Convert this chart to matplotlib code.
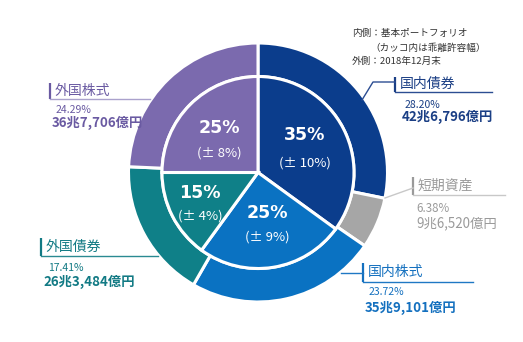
import matplotlib
matplotlib.use("Agg")
import matplotlib.pyplot as plt

plt.rcParams['font.family'] = ['Noto Sans CJK JP', 'DejaVu Sans']

# outer ring: actual allocation at end of Dec 2018 (clockwise from top)
categories = ['国内債券', '短期資産', '国内株式', '外国債券', '外国株式']
actual_pct = [28.20, 6.38, 23.72, 17.41, 24.29]
amounts = ['42兆6,796億円', '9兆6,520億円', '35兆9,101億円', '26兆3,484億円', '36兆7,706億円']

# inner pie: policy portfolio and allowed deviation
policy_cats = ['国内債券', '国内株式', '外国債券', '外国株式']
policy_pct = [35, 25, 15, 25]
policy_band = [10, 9, 4, 8]

fill = {'国内債券': '#0b3d8c', '短期資産': '#a6a6a6', '国内株式': '#0a72c2',
        '外国債券': '#0f8088', '外国株式': '#7b6aae'}
text_col = {'国内債券': '#1b3f85', '短期資産': '#9a9a9a', '国内株式': '#1470bf',
            '外国債券': '#127a84', '外国株式': '#6a5aa2'}
line_col = {'国内債券': '#2c4d92', '短期資産': '#c8c8c8', '国内株式': '#1f78c4',
            '外国債券': '#2a8a92', '外国株式': '#aaa2cc'}

W, H = 523, 342
fig = plt.figure(figsize=(W / 100, H / 100), dpi=100)
ax = fig.add_axes([0, 0, 1, 1])

cx, cy = 258, H - 172.5
R_out, R_in = 129.5, 96

ax.pie(actual_pct, radius=R_out, center=(cx, cy), startangle=90, counterclock=False,
       colors=[fill[c] for c in categories], frame=True,
       wedgeprops=dict(width=R_out - R_in, edgecolor='white', linewidth=2.2))
ax.pie(policy_pct, radius=R_in, center=(cx, cy), startangle=90, counterclock=False,
       colors=[fill[c] for c in policy_cats], frame=True,
       wedgeprops=dict(edgecolor='white', linewidth=2.2))

ax.set_xlim(0, W)
ax.set_ylim(0, H)
ax.axis('off')

# inner labels (pixel positions measured from top-left)
inner_pos = [(305, 135, 163), (267, 213, 237), (200, 193, 216), (219, 128, 153)]
for (x, y1, y2), p, b in zip(inner_pos, policy_pct, policy_band):
    ax.text(x, H - y1, f'{p}%', color='white', fontsize=12.5, fontweight='bold',
            ha='center', va='center', family='DejaVu Sans')
    ax.text(x, H - y2, f'(± {b}%)', color='white', fontsize=9.5,
            ha='center', va='center')

# outer labels: bar x, bar top, bar bottom, underline end, leader points
label_pos = {
    '国内債券': dict(x=395, top=77, bot=92, end=492, leader=[(362, 100), (373, 82), (395, 82)],
                  pct=(405, 105), amt=(402, 117)),
    '短期資産': dict(x=413, top=177, bot=195, end=505, leader=[(385, 198), (413, 188)],
                  pct=(416, 208), amt=(416, 223)),
    '国内株式': dict(x=363, top=263, bot=282, end=473, leader=[(341, 273), (363, 273)],
                  pct=(369, 292), amt=(365, 308)),
    '外国債券': dict(x=41, top=238, bot=256, end=158, leader=None,
                  pct=(48, 268), amt=(43, 282)),
    '外国株式': dict(x=50, top=83, bot=99, end=150, leader=None,
                  pct=(56, 110), amt=(52, 123)),
}

for c, pct, amt in zip(categories, actual_pct, amounts):
    p = label_pos[c]
    tc, lc = text_col[c], line_col[c]
    ax.plot([p['x'], p['x']], [H - p['top'], H - p['bot']], color=tc, lw=1.6,
            solid_capstyle='butt')
    ax.plot([p['x'], p['end']], [H - p['bot'], H - p['bot']], color=lc, lw=1.0)
    if p['leader']:
        xs = [q[0] for q in p['leader']]
        ys = [H - q[1] for q in p['leader']]
        ax.plot(xs, ys, color=lc, lw=1.0)
    ax.text(p['x'] + 5, H - (p['top'] + p['bot']) / 2 + 0.5, c, color=tc, fontsize=10,
            ha='left', va='center')
    weight = 'normal' if c == '短期資産' else 'bold'
    ax.text(p['pct'][0], H - p['pct'][1], f'{pct:.2f}%', color=tc,
            fontsize=7.5 if c != '短期資産' else 8.3, ha='left', va='center')
    ax.text(p['amt'][0], H - p['amt'][1], amt, color=tc, fontsize=9.6,
            fontweight=weight, ha='left', va='center')

# note at top right
note_col = '#333333'
ax.text(352, H - 33, '内側：基本ポートフォリオ', fontsize=6.9, color=note_col, ha='left', va='center')
ax.text(370, H - 48, '（カッコ内は乖離許容幅）', fontsize=6.9, color=note_col, ha='left', va='center')
ax.text(352, H - 61, '外側：2018年12月末', fontsize=6.9, color=note_col, ha='left', va='center')

fig.savefig('out.png', dpi=100, facecolor='white')
